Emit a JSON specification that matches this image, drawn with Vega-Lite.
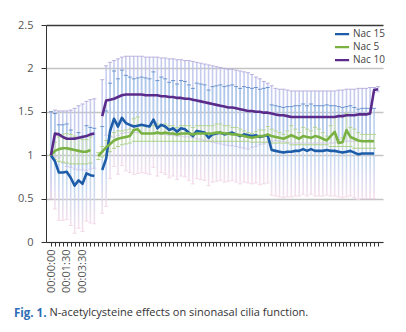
{
  "$schema": "https://vega.github.io/schema/vega-lite/v6.json",
  "width": 337,
  "height": 217,
  "autosize": {"type": "none"},
  "padding": {"left": 46, "top": 25, "right": 23, "bottom": 90},
  "background": "white",
  "config": {"view": {"stroke": null}, "font": "Open Sans"},
  "title": {
    "text": "Fig. 1.",
    "orient": "bottom",
    "anchor": "start",
    "frame": "group",
    "dx": -32,
    "offset": 0,
    "baseline": "alphabetic",
    "font": "Open Sans",
    "fontSize": 11.5,
    "fontWeight": "bold",
    "color": "#2e6db4"
  },
  "data": {
    "values": [
      {"t": 0, "s": "Nac 15", "g": 1, "v": 1.00, "lo": 0.50, "hi": 1.50},
      {"t": 1, "s": "Nac 15", "g": 1, "v": 0.93, "lo": 0.38, "hi": 1.48},
      {"t": 2, "s": "Nac 15", "g": 1, "v": 0.80, "lo": 0.25, "hi": 1.35},
      {"t": 3, "s": "Nac 15", "g": 1, "v": 0.80, "lo": 0.25, "hi": 1.35},
      {"t": 4, "s": "Nac 15", "g": 1, "v": 0.81, "lo": 0.26, "hi": 1.36},
      {"t": 5, "s": "Nac 15", "g": 1, "v": 0.74, "lo": 0.19, "hi": 1.29},
      {"t": 6, "s": "Nac 15", "g": 1, "v": 0.65, "lo": 0.10, "hi": 1.20},
      {"t": 7, "s": "Nac 15", "g": 1, "v": 0.71, "lo": 0.16, "hi": 1.26},
      {"t": 8, "s": "Nac 15", "g": 1, "v": 0.67, "lo": 0.12, "hi": 1.22},
      {"t": 9, "s": "Nac 15", "g": 1, "v": 0.79, "lo": 0.24, "hi": 1.34},
      {"t": 10, "s": "Nac 15", "g": 1, "v": 0.77, "lo": 0.22, "hi": 1.32},
      {"t": 11, "s": "Nac 15", "g": 1, "v": 0.76, "lo": 0.21, "hi": 1.31},
      {"t": 13, "s": "Nac 15", "g": 2, "v": 0.83, "lo": 0.33, "hi": 1.33},
      {"t": 14, "s": "Nac 15", "g": 2, "v": 0.96, "lo": 0.41, "hi": 1.51},
      {"t": 15, "s": "Nac 15", "g": 2, "v": 1.28, "lo": 0.73, "hi": 1.83},
      {"t": 16, "s": "Nac 15", "g": 2, "v": 1.42, "lo": 0.87, "hi": 1.97},
      {"t": 17, "s": "Nac 15", "g": 2, "v": 1.33, "lo": 0.78, "hi": 1.88},
      {"t": 18, "s": "Nac 15", "g": 2, "v": 1.43, "lo": 0.88, "hi": 1.98},
      {"t": 19, "s": "Nac 15", "g": 2, "v": 1.37, "lo": 0.82, "hi": 1.92},
      {"t": 20, "s": "Nac 15", "g": 2, "v": 1.35, "lo": 0.80, "hi": 1.90},
      {"t": 21, "s": "Nac 15", "g": 2, "v": 1.33, "lo": 0.78, "hi": 1.88},
      {"t": 22, "s": "Nac 15", "g": 2, "v": 1.34, "lo": 0.79, "hi": 1.89},
      {"t": 23, "s": "Nac 15", "g": 2, "v": 1.35, "lo": 0.80, "hi": 1.90},
      {"t": 24, "s": "Nac 15", "g": 2, "v": 1.34, "lo": 0.79, "hi": 1.89},
      {"t": 25, "s": "Nac 15", "g": 2, "v": 1.33, "lo": 0.78, "hi": 1.88},
      {"t": 26, "s": "Nac 15", "g": 2, "v": 1.41, "lo": 0.86, "hi": 1.96},
      {"t": 27, "s": "Nac 15", "g": 2, "v": 1.31, "lo": 0.76, "hi": 1.86},
      {"t": 28, "s": "Nac 15", "g": 2, "v": 1.35, "lo": 0.80, "hi": 1.90},
      {"t": 29, "s": "Nac 15", "g": 2, "v": 1.33, "lo": 0.78, "hi": 1.88},
      {"t": 30, "s": "Nac 15", "g": 2, "v": 1.29, "lo": 0.74, "hi": 1.84},
      {"t": 31, "s": "Nac 15", "g": 2, "v": 1.31, "lo": 0.76, "hi": 1.86},
      {"t": 32, "s": "Nac 15", "g": 2, "v": 1.27, "lo": 0.72, "hi": 1.82},
      {"t": 33, "s": "Nac 15", "g": 2, "v": 1.31, "lo": 0.76, "hi": 1.86},
      {"t": 34, "s": "Nac 15", "g": 2, "v": 1.30, "lo": 0.75, "hi": 1.85},
      {"t": 35, "s": "Nac 15", "g": 2, "v": 1.26, "lo": 0.71, "hi": 1.81},
      {"t": 36, "s": "Nac 15", "g": 2, "v": 1.22, "lo": 0.67, "hi": 1.77},
      {"t": 37, "s": "Nac 15", "g": 2, "v": 1.28, "lo": 0.73, "hi": 1.83},
      {"t": 38, "s": "Nac 15", "g": 2, "v": 1.27, "lo": 0.72, "hi": 1.82},
      {"t": 39, "s": "Nac 15", "g": 2, "v": 1.26, "lo": 0.71, "hi": 1.81},
      {"t": 40, "s": "Nac 15", "g": 2, "v": 1.20, "lo": 0.65, "hi": 1.75},
      {"t": 41, "s": "Nac 15", "g": 2, "v": 1.24, "lo": 0.69, "hi": 1.79},
      {"t": 42, "s": "Nac 15", "g": 2, "v": 1.25, "lo": 0.70, "hi": 1.80},
      {"t": 43, "s": "Nac 15", "g": 2, "v": 1.26, "lo": 0.71, "hi": 1.81},
      {"t": 44, "s": "Nac 15", "g": 2, "v": 1.24, "lo": 0.69, "hi": 1.79},
      {"t": 45, "s": "Nac 15", "g": 2, "v": 1.25, "lo": 0.70, "hi": 1.80},
      {"t": 46, "s": "Nac 15", "g": 2, "v": 1.26, "lo": 0.71, "hi": 1.81},
      {"t": 47, "s": "Nac 15", "g": 2, "v": 1.24, "lo": 0.69, "hi": 1.79},
      {"t": 48, "s": "Nac 15", "g": 2, "v": 1.22, "lo": 0.67, "hi": 1.77},
      {"t": 49, "s": "Nac 15", "g": 2, "v": 1.24, "lo": 0.69, "hi": 1.79},
      {"t": 50, "s": "Nac 15", "g": 2, "v": 1.23, "lo": 0.68, "hi": 1.78},
      {"t": 51, "s": "Nac 15", "g": 2, "v": 1.22, "lo": 0.67, "hi": 1.77},
      {"t": 52, "s": "Nac 15", "g": 2, "v": 1.23, "lo": 0.68, "hi": 1.78},
      {"t": 53, "s": "Nac 15", "g": 2, "v": 1.21, "lo": 0.66, "hi": 1.76},
      {"t": 54, "s": "Nac 15", "g": 2, "v": 1.22, "lo": 0.67, "hi": 1.77},
      {"t": 55, "s": "Nac 15", "g": 2, "v": 1.23, "lo": 0.68, "hi": 1.78},
      {"t": 56, "s": "Nac 15", "g": 2, "v": 1.06, "lo": 0.54, "hi": 1.58},
      {"t": 57, "s": "Nac 15", "g": 2, "v": 1.05, "lo": 0.53, "hi": 1.57},
      {"t": 58, "s": "Nac 15", "g": 2, "v": 1.04, "lo": 0.52, "hi": 1.56},
      {"t": 59, "s": "Nac 15", "g": 2, "v": 1.03, "lo": 0.51, "hi": 1.55},
      {"t": 60, "s": "Nac 15", "g": 2, "v": 1.04, "lo": 0.52, "hi": 1.56},
      {"t": 61, "s": "Nac 15", "g": 2, "v": 1.04, "lo": 0.52, "hi": 1.56},
      {"t": 62, "s": "Nac 15", "g": 2, "v": 1.05, "lo": 0.53, "hi": 1.57},
      {"t": 63, "s": "Nac 15", "g": 2, "v": 1.05, "lo": 0.53, "hi": 1.57},
      {"t": 64, "s": "Nac 15", "g": 2, "v": 1.07, "lo": 0.55, "hi": 1.59},
      {"t": 65, "s": "Nac 15", "g": 2, "v": 1.05, "lo": 0.53, "hi": 1.57},
      {"t": 66, "s": "Nac 15", "g": 2, "v": 1.07, "lo": 0.55, "hi": 1.59},
      {"t": 67, "s": "Nac 15", "g": 2, "v": 1.05, "lo": 0.53, "hi": 1.57},
      {"t": 68, "s": "Nac 15", "g": 2, "v": 1.05, "lo": 0.53, "hi": 1.57},
      {"t": 69, "s": "Nac 15", "g": 2, "v": 1.05, "lo": 0.53, "hi": 1.57},
      {"t": 70, "s": "Nac 15", "g": 2, "v": 1.06, "lo": 0.54, "hi": 1.58},
      {"t": 71, "s": "Nac 15", "g": 2, "v": 1.05, "lo": 0.53, "hi": 1.57},
      {"t": 72, "s": "Nac 15", "g": 2, "v": 1.05, "lo": 0.53, "hi": 1.57},
      {"t": 73, "s": "Nac 15", "g": 2, "v": 1.04, "lo": 0.52, "hi": 1.56},
      {"t": 74, "s": "Nac 15", "g": 2, "v": 1.03, "lo": 0.51, "hi": 1.55},
      {"t": 75, "s": "Nac 15", "g": 2, "v": 1.04, "lo": 0.52, "hi": 1.56},
      {"t": 76, "s": "Nac 15", "g": 2, "v": 1.05, "lo": 0.53, "hi": 1.57},
      {"t": 77, "s": "Nac 15", "g": 2, "v": 1.03, "lo": 0.51, "hi": 1.55},
      {"t": 78, "s": "Nac 15", "g": 2, "v": 1.01, "lo": 0.49, "hi": 1.53},
      {"t": 79, "s": "Nac 15", "g": 2, "v": 1.02, "lo": 0.50, "hi": 1.54},
      {"t": 80, "s": "Nac 15", "g": 2, "v": 1.02, "lo": 0.50, "hi": 1.54},
      {"t": 81, "s": "Nac 15", "g": 2, "v": 1.02, "lo": 0.50, "hi": 1.54},
      {"t": 82, "s": "Nac 15", "g": 2, "v": 1.02, "lo": 0.50, "hi": 1.54},

      {"t": 0, "s": "Nac 5", "g": 1, "v": 1.00, "lo": 1.00, "hi": 1.00},
      {"t": 1, "s": "Nac 5", "g": 1, "v": 1.05, "lo": 0.95, "hi": 1.15},
      {"t": 2, "s": "Nac 5", "g": 1, "v": 1.07, "lo": 0.93, "hi": 1.21},
      {"t": 3, "s": "Nac 5", "g": 1, "v": 1.08, "lo": 0.92, "hi": 1.24},
      {"t": 4, "s": "Nac 5", "g": 1, "v": 1.08, "lo": 0.91, "hi": 1.25},
      {"t": 5, "s": "Nac 5", "g": 1, "v": 1.07, "lo": 0.90, "hi": 1.24},
      {"t": 6, "s": "Nac 5", "g": 1, "v": 1.06, "lo": 0.90, "hi": 1.22},
      {"t": 7, "s": "Nac 5", "g": 1, "v": 1.05, "lo": 0.90, "hi": 1.20},
      {"t": 8, "s": "Nac 5", "g": 1, "v": 1.04, "lo": 0.90, "hi": 1.18},
      {"t": 9, "s": "Nac 5", "g": 1, "v": 1.04, "lo": 0.90, "hi": 1.18},
      {"t": 10, "s": "Nac 5", "g": 1, "v": 1.06, "lo": 0.91, "hi": 1.21},
      {"t": 12, "s": "Nac 5", "g": 2, "v": 0.99, "lo": 0.95, "hi": 1.03},
      {"t": 13, "s": "Nac 5", "g": 2, "v": 1.04, "lo": 0.98, "hi": 1.10},
      {"t": 14, "s": "Nac 5", "g": 2, "v": 1.09, "lo": 1.01, "hi": 1.17},
      {"t": 15, "s": "Nac 5", "g": 2, "v": 1.13, "lo": 1.04, "hi": 1.22},
      {"t": 16, "s": "Nac 5", "g": 2, "v": 1.17, "lo": 1.08, "hi": 1.26},
      {"t": 17, "s": "Nac 5", "g": 2, "v": 1.19, "lo": 1.10, "hi": 1.28},
      {"t": 18, "s": "Nac 5", "g": 2, "v": 1.20, "lo": 1.12, "hi": 1.28},
      {"t": 19, "s": "Nac 5", "g": 2, "v": 1.21, "lo": 1.13, "hi": 1.29},
      {"t": 20, "s": "Nac 5", "g": 2, "v": 1.22, "lo": 1.14, "hi": 1.30},
      {"t": 21, "s": "Nac 5", "g": 2, "v": 1.29, "lo": 1.16, "hi": 1.42},
      {"t": 22, "s": "Nac 5", "g": 2, "v": 1.30, "lo": 1.16, "hi": 1.44},
      {"t": 23, "s": "Nac 5", "g": 2, "v": 1.25, "lo": 1.16, "hi": 1.34},
      {"t": 24, "s": "Nac 5", "g": 2, "v": 1.25, "lo": 1.16, "hi": 1.34},
      {"t": 25, "s": "Nac 5", "g": 2, "v": 1.25, "lo": 1.16, "hi": 1.34},
      {"t": 26, "s": "Nac 5", "g": 2, "v": 1.25, "lo": 1.16, "hi": 1.34},
      {"t": 27, "s": "Nac 5", "g": 2, "v": 1.26, "lo": 1.16, "hi": 1.36},
      {"t": 28, "s": "Nac 5", "g": 2, "v": 1.25, "lo": 1.16, "hi": 1.34},
      {"t": 29, "s": "Nac 5", "g": 2, "v": 1.26, "lo": 1.16, "hi": 1.36},
      {"t": 30, "s": "Nac 5", "g": 2, "v": 1.25, "lo": 1.16, "hi": 1.34},
      {"t": 31, "s": "Nac 5", "g": 2, "v": 1.25, "lo": 1.16, "hi": 1.34},
      {"t": 32, "s": "Nac 5", "g": 2, "v": 1.24, "lo": 1.16, "hi": 1.32},
      {"t": 33, "s": "Nac 5", "g": 2, "v": 1.25, "lo": 1.16, "hi": 1.34},
      {"t": 34, "s": "Nac 5", "g": 2, "v": 1.25, "lo": 1.16, "hi": 1.34},
      {"t": 35, "s": "Nac 5", "g": 2, "v": 1.25, "lo": 1.16, "hi": 1.34},
      {"t": 36, "s": "Nac 5", "g": 2, "v": 1.24, "lo": 1.16, "hi": 1.32},
      {"t": 37, "s": "Nac 5", "g": 2, "v": 1.25, "lo": 1.16, "hi": 1.34},
      {"t": 38, "s": "Nac 5", "g": 2, "v": 1.25, "lo": 1.16, "hi": 1.34},
      {"t": 39, "s": "Nac 5", "g": 2, "v": 1.25, "lo": 1.16, "hi": 1.34},
      {"t": 40, "s": "Nac 5", "g": 2, "v": 1.25, "lo": 1.16, "hi": 1.34},
      {"t": 41, "s": "Nac 5", "g": 2, "v": 1.25, "lo": 1.16, "hi": 1.34},
      {"t": 42, "s": "Nac 5", "g": 2, "v": 1.26, "lo": 1.16, "hi": 1.36},
      {"t": 43, "s": "Nac 5", "g": 2, "v": 1.26, "lo": 1.16, "hi": 1.36},
      {"t": 44, "s": "Nac 5", "g": 2, "v": 1.25, "lo": 1.16, "hi": 1.34},
      {"t": 45, "s": "Nac 5", "g": 2, "v": 1.25, "lo": 1.16, "hi": 1.34},
      {"t": 46, "s": "Nac 5", "g": 2, "v": 1.24, "lo": 1.16, "hi": 1.32},
      {"t": 47, "s": "Nac 5", "g": 2, "v": 1.24, "lo": 1.16, "hi": 1.32},
      {"t": 48, "s": "Nac 5", "g": 2, "v": 1.23, "lo": 1.16, "hi": 1.30},
      {"t": 49, "s": "Nac 5", "g": 2, "v": 1.22, "lo": 1.16, "hi": 1.28},
      {"t": 50, "s": "Nac 5", "g": 2, "v": 1.21, "lo": 1.16, "hi": 1.26},
      {"t": 51, "s": "Nac 5", "g": 2, "v": 1.20, "lo": 1.15, "hi": 1.25},
      {"t": 52, "s": "Nac 5", "g": 2, "v": 1.21, "lo": 1.15, "hi": 1.27},
      {"t": 53, "s": "Nac 5", "g": 2, "v": 1.22, "lo": 1.15, "hi": 1.29},
      {"t": 54, "s": "Nac 5", "g": 2, "v": 1.22, "lo": 1.15, "hi": 1.29},
      {"t": 55, "s": "Nac 5", "g": 2, "v": 1.24, "lo": 1.15, "hi": 1.33},
      {"t": 56, "s": "Nac 5", "g": 2, "v": 1.22, "lo": 1.14, "hi": 1.30},
      {"t": 57, "s": "Nac 5", "g": 2, "v": 1.21, "lo": 1.14, "hi": 1.28},
      {"t": 58, "s": "Nac 5", "g": 2, "v": 1.20, "lo": 1.14, "hi": 1.26},
      {"t": 59, "s": "Nac 5", "g": 2, "v": 1.19, "lo": 1.14, "hi": 1.24},
      {"t": 60, "s": "Nac 5", "g": 2, "v": 1.21, "lo": 1.14, "hi": 1.28},
      {"t": 61, "s": "Nac 5", "g": 2, "v": 1.23, "lo": 1.12, "hi": 1.34},
      {"t": 62, "s": "Nac 5", "g": 2, "v": 1.21, "lo": 1.12, "hi": 1.30},
      {"t": 63, "s": "Nac 5", "g": 2, "v": 1.19, "lo": 1.12, "hi": 1.26},
      {"t": 64, "s": "Nac 5", "g": 2, "v": 1.22, "lo": 1.12, "hi": 1.32},
      {"t": 65, "s": "Nac 5", "g": 2, "v": 1.21, "lo": 1.12, "hi": 1.30},
      {"t": 66, "s": "Nac 5", "g": 2, "v": 1.20, "lo": 1.12, "hi": 1.28},
      {"t": 67, "s": "Nac 5", "g": 2, "v": 1.22, "lo": 1.12, "hi": 1.32},
      {"t": 68, "s": "Nac 5", "g": 2, "v": 1.21, "lo": 1.12, "hi": 1.30},
      {"t": 69, "s": "Nac 5", "g": 2, "v": 1.19, "lo": 1.12, "hi": 1.26},
      {"t": 70, "s": "Nac 5", "g": 2, "v": 1.17, "lo": 1.12, "hi": 1.22},
      {"t": 71, "s": "Nac 5", "g": 2, "v": 1.22, "lo": 1.10, "hi": 1.34},
      {"t": 72, "s": "Nac 5", "g": 2, "v": 1.27, "lo": 1.10, "hi": 1.44},
      {"t": 73, "s": "Nac 5", "g": 2, "v": 1.14, "lo": 1.10, "hi": 1.18},
      {"t": 74, "s": "Nac 5", "g": 2, "v": 1.15, "lo": 1.10, "hi": 1.20},
      {"t": 75, "s": "Nac 5", "g": 2, "v": 1.29, "lo": 1.10, "hi": 1.48},
      {"t": 76, "s": "Nac 5", "g": 2, "v": 1.21, "lo": 1.10, "hi": 1.32},
      {"t": 77, "s": "Nac 5", "g": 2, "v": 1.19, "lo": 1.08, "hi": 1.30},
      {"t": 78, "s": "Nac 5", "g": 2, "v": 1.17, "lo": 1.08, "hi": 1.26},
      {"t": 79, "s": "Nac 5", "g": 2, "v": 1.16, "lo": 1.08, "hi": 1.24},
      {"t": 80, "s": "Nac 5", "g": 2, "v": 1.16, "lo": 1.08, "hi": 1.24},
      {"t": 81, "s": "Nac 5", "g": 2, "v": 1.16, "lo": 1.08, "hi": 1.24},
      {"t": 82, "s": "Nac 5", "g": 2, "v": 1.16, "lo": 1.08, "hi": 1.24},

      {"t": 0, "s": "Nac 10", "g": 1, "v": 1.00, "lo": 0.50, "hi": 1.50},
      {"t": 1, "s": "Nac 10", "g": 1, "v": 1.25, "lo": 0.98, "hi": 1.52},
      {"t": 2, "s": "Nac 10", "g": 1, "v": 1.24, "lo": 0.97, "hi": 1.51},
      {"t": 3, "s": "Nac 10", "g": 1, "v": 1.21, "lo": 0.91, "hi": 1.51},
      {"t": 4, "s": "Nac 10", "g": 1, "v": 1.19, "lo": 0.87, "hi": 1.51},
      {"t": 5, "s": "Nac 10", "g": 1, "v": 1.19, "lo": 0.86, "hi": 1.52},
      {"t": 6, "s": "Nac 10", "g": 1, "v": 1.19, "lo": 0.84, "hi": 1.54},
      {"t": 7, "s": "Nac 10", "g": 1, "v": 1.20, "lo": 0.83, "hi": 1.57},
      {"t": 8, "s": "Nac 10", "g": 1, "v": 1.21, "lo": 0.83, "hi": 1.59},
      {"t": 9, "s": "Nac 10", "g": 1, "v": 1.22, "lo": 0.82, "hi": 1.62},
      {"t": 10, "s": "Nac 10", "g": 1, "v": 1.24, "lo": 0.84, "hi": 1.64},
      {"t": 11, "s": "Nac 10", "g": 1, "v": 1.25, "lo": 0.85, "hi": 1.65},
      {"t": 13, "s": "Nac 10", "g": 2, "v": 1.45, "lo": 1.03, "hi": 1.87},
      {"t": 14, "s": "Nac 10", "g": 2, "v": 1.63, "lo": 1.23, "hi": 2.03},
      {"t": 15, "s": "Nac 10", "g": 2, "v": 1.64, "lo": 1.21, "hi": 2.07},
      {"t": 16, "s": "Nac 10", "g": 2, "v": 1.65, "lo": 1.21, "hi": 2.09},
      {"t": 17, "s": "Nac 10", "g": 2, "v": 1.67, "lo": 1.23, "hi": 2.11},
      {"t": 18, "s": "Nac 10", "g": 2, "v": 1.69, "lo": 1.25, "hi": 2.13},
      {"t": 19, "s": "Nac 10", "g": 2, "v": 1.70, "lo": 1.26, "hi": 2.14},
      {"t": 20, "s": "Nac 10", "g": 2, "v": 1.70, "lo": 1.26, "hi": 2.14},
      {"t": 21, "s": "Nac 10", "g": 2, "v": 1.70, "lo": 1.26, "hi": 2.14},
      {"t": 22, "s": "Nac 10", "g": 2, "v": 1.70, "lo": 1.26, "hi": 2.14},
      {"t": 23, "s": "Nac 10", "g": 2, "v": 1.70, "lo": 1.26, "hi": 2.14},
      {"t": 24, "s": "Nac 10", "g": 2, "v": 1.69, "lo": 1.25, "hi": 2.13},
      {"t": 25, "s": "Nac 10", "g": 2, "v": 1.69, "lo": 1.25, "hi": 2.13},
      {"t": 26, "s": "Nac 10", "g": 2, "v": 1.69, "lo": 1.25, "hi": 2.13},
      {"t": 27, "s": "Nac 10", "g": 2, "v": 1.69, "lo": 1.25, "hi": 2.13},
      {"t": 28, "s": "Nac 10", "g": 2, "v": 1.68, "lo": 1.24, "hi": 2.12},
      {"t": 29, "s": "Nac 10", "g": 2, "v": 1.68, "lo": 1.24, "hi": 2.12},
      {"t": 30, "s": "Nac 10", "g": 2, "v": 1.67, "lo": 1.23, "hi": 2.11},
      {"t": 31, "s": "Nac 10", "g": 2, "v": 1.67, "lo": 1.23, "hi": 2.11},
      {"t": 32, "s": "Nac 10", "g": 2, "v": 1.66, "lo": 1.22, "hi": 2.10},
      {"t": 33, "s": "Nac 10", "g": 2, "v": 1.66, "lo": 1.22, "hi": 2.10},
      {"t": 34, "s": "Nac 10", "g": 2, "v": 1.65, "lo": 1.21, "hi": 2.09},
      {"t": 35, "s": "Nac 10", "g": 2, "v": 1.65, "lo": 1.21, "hi": 2.09},
      {"t": 36, "s": "Nac 10", "g": 2, "v": 1.64, "lo": 1.20, "hi": 2.08},
      {"t": 37, "s": "Nac 10", "g": 2, "v": 1.63, "lo": 1.19, "hi": 2.07},
      {"t": 38, "s": "Nac 10", "g": 2, "v": 1.62, "lo": 1.18, "hi": 2.06},
      {"t": 39, "s": "Nac 10", "g": 2, "v": 1.61, "lo": 1.17, "hi": 2.05},
      {"t": 40, "s": "Nac 10", "g": 2, "v": 1.60, "lo": 1.16, "hi": 2.04},
      {"t": 41, "s": "Nac 10", "g": 2, "v": 1.59, "lo": 1.15, "hi": 2.03},
      {"t": 42, "s": "Nac 10", "g": 2, "v": 1.58, "lo": 1.14, "hi": 2.02},
      {"t": 43, "s": "Nac 10", "g": 2, "v": 1.57, "lo": 1.13, "hi": 2.01},
      {"t": 44, "s": "Nac 10", "g": 2, "v": 1.56, "lo": 1.12, "hi": 2.00},
      {"t": 45, "s": "Nac 10", "g": 2, "v": 1.55, "lo": 1.11, "hi": 1.99},
      {"t": 46, "s": "Nac 10", "g": 2, "v": 1.55, "lo": 1.11, "hi": 1.99},
      {"t": 47, "s": "Nac 10", "g": 2, "v": 1.54, "lo": 1.10, "hi": 1.98},
      {"t": 48, "s": "Nac 10", "g": 2, "v": 1.53, "lo": 1.09, "hi": 1.97},
      {"t": 49, "s": "Nac 10", "g": 2, "v": 1.52, "lo": 1.08, "hi": 1.96},
      {"t": 50, "s": "Nac 10", "g": 2, "v": 1.51, "lo": 1.07, "hi": 1.95},
      {"t": 51, "s": "Nac 10", "g": 2, "v": 1.51, "lo": 1.09, "hi": 1.93},
      {"t": 52, "s": "Nac 10", "g": 2, "v": 1.50, "lo": 1.10, "hi": 1.90},
      {"t": 53, "s": "Nac 10", "g": 2, "v": 1.50, "lo": 1.12, "hi": 1.88},
      {"t": 54, "s": "Nac 10", "g": 2, "v": 1.49, "lo": 1.13, "hi": 1.85},
      {"t": 55, "s": "Nac 10", "g": 2, "v": 1.49, "lo": 1.15, "hi": 1.83},
      {"t": 56, "s": "Nac 10", "g": 2, "v": 1.48, "lo": 1.16, "hi": 1.80},
      {"t": 57, "s": "Nac 10", "g": 2, "v": 1.47, "lo": 1.17, "hi": 1.77},
      {"t": 58, "s": "Nac 10", "g": 2, "v": 1.46, "lo": 1.16, "hi": 1.76},
      {"t": 59, "s": "Nac 10", "g": 2, "v": 1.46, "lo": 1.16, "hi": 1.76},
      {"t": 60, "s": "Nac 10", "g": 2, "v": 1.45, "lo": 1.15, "hi": 1.75},
      {"t": 61, "s": "Nac 10", "g": 2, "v": 1.44, "lo": 1.14, "hi": 1.74},
      {"t": 62, "s": "Nac 10", "g": 2, "v": 1.44, "lo": 1.14, "hi": 1.74},
      {"t": 63, "s": "Nac 10", "g": 2, "v": 1.44, "lo": 1.14, "hi": 1.74},
      {"t": 64, "s": "Nac 10", "g": 2, "v": 1.44, "lo": 1.14, "hi": 1.74},
      {"t": 65, "s": "Nac 10", "g": 2, "v": 1.44, "lo": 1.14, "hi": 1.74},
      {"t": 66, "s": "Nac 10", "g": 2, "v": 1.44, "lo": 1.14, "hi": 1.74},
      {"t": 67, "s": "Nac 10", "g": 2, "v": 1.44, "lo": 1.14, "hi": 1.74},
      {"t": 68, "s": "Nac 10", "g": 2, "v": 1.44, "lo": 1.14, "hi": 1.74},
      {"t": 69, "s": "Nac 10", "g": 2, "v": 1.44, "lo": 1.14, "hi": 1.74},
      {"t": 70, "s": "Nac 10", "g": 2, "v": 1.44, "lo": 1.14, "hi": 1.74},
      {"t": 71, "s": "Nac 10", "g": 2, "v": 1.44, "lo": 1.14, "hi": 1.74},
      {"t": 72, "s": "Nac 10", "g": 2, "v": 1.44, "lo": 1.14, "hi": 1.74},
      {"t": 73, "s": "Nac 10", "g": 2, "v": 1.45, "lo": 1.15, "hi": 1.75},
      {"t": 74, "s": "Nac 10", "g": 2, "v": 1.45, "lo": 1.15, "hi": 1.75},
      {"t": 75, "s": "Nac 10", "g": 2, "v": 1.46, "lo": 1.16, "hi": 1.76},
      {"t": 76, "s": "Nac 10", "g": 2, "v": 1.46, "lo": 1.16, "hi": 1.76},
      {"t": 77, "s": "Nac 10", "g": 2, "v": 1.46, "lo": 1.16, "hi": 1.76},
      {"t": 78, "s": "Nac 10", "g": 2, "v": 1.47, "lo": 1.17, "hi": 1.77},
      {"t": 79, "s": "Nac 10", "g": 2, "v": 1.47, "lo": 1.17, "hi": 1.77},
      {"t": 80, "s": "Nac 10", "g": 2, "v": 1.47, "lo": 1.17, "hi": 1.77},
      {"t": 81, "s": "Nac 10", "g": 2, "v": 1.48, "lo": 1.18, "hi": 1.78},
      {"t": 82, "s": "Nac 10", "g": 2, "v": 1.75, "lo": 1.72, "hi": 1.78},
      {"t": 83, "s": "Nac 10", "g": 2, "v": 1.76, "lo": 1.73, "hi": 1.79}
    ]
  },
  "encoding": {
    "x": {
      "field": "t",
      "type": "quantitative",
      "scale": {"domain": [0, 83], "nice": false, "zero": false},
      "axis": {
        "values": [0,1,2,3,4,5,6,7,8,9,10,11,12,13,14,15,16,17,18,19,20,21,22,23,24,25,26,27,28,29,30,31,32,33,34,35,36,37,38,39,40,41,42,43,44,45,46,47,48,49,50,51,52,53,54,55,56,57,58,59,60,61,62,63,64,65,66,67,68,69,70,71,72,73,74,75,76,77,78,79,80,81,82,83],
        "labelExpr": "datum.value == 0 ? '00:00:00' : datum.value == 4 ? '00:01:30' : datum.value == 8 ? '00:03:30' : ''",
        "labelAngle": -90,
        "labelOverlap": false,
        "labelBound": false,
        "labelFlush": false,
        "labelFont": "Open Sans",
        "labelFontSize": 11,
        "labelColor": "#555555",
        "labelPadding": 3,
        "tickSize": 4,
        "tickColor": "#333333",
        "domainColor": "#333333",
        "grid": false,
        "title": "N-acetylcysteine effects on sinonasal cilia function.",
        "titleX": 3,
        "titleY": 73,
        "titleAlign": "left",
        "titleAngle": 0,
        "titleBaseline": "alphabetic",
        "titleFont": "Open Sans",
        "titleFontSize": 11,
        "titleFontWeight": "normal",
        "titleColor": "#333333"
      }
    }
  },
  "layer": [
    {
      "transform": [{"filter": "datum.s == 'Nac 10'"}],
      "mark": {"type": "rule", "color": "#bcc3ea", "strokeWidth": 1.6, "opacity": 0.85},
      "encoding": {
        "y": {"field": "lo", "type": "quantitative"},
        "y2": {"field": "hi"}
      }
    },
    {
      "transform": [{"filter": "datum.s == 'Nac 15'"}],
      "mark": {
        "type": "bar",
        "size": 1.6,
        "opacity": 0.85,
        "color": {
          "gradient": "linear",
          "x1": 0, "y1": 0, "x2": 0, "y2": 1,
          "stops": [
            {"offset": 0, "color": "#a6c6ea"},
            {"offset": 0.6, "color": "#bed2ee"},
            {"offset": 1, "color": "#f3dbea"}
          ]
        }
      },
      "encoding": {
        "y": {"field": "lo", "type": "quantitative"},
        "y2": {"field": "hi"}
      }
    },
    {
      "transform": [{"filter": "datum.s == 'Nac 5'"}],
      "mark": {"type": "rule", "color": "#cfe4b4", "strokeWidth": 1.4, "opacity": 0.8},
      "encoding": {
        "y": {"field": "lo", "type": "quantitative"},
        "y2": {"field": "hi"}
      }
    },
    {
      "transform": [{"filter": "datum.s == 'Nac 10'"}],
      "mark": {"type": "tick", "orient": "horizontal", "size": 4, "thickness": 1, "color": "#b4a8dc", "opacity": 0.9},
      "encoding": {"y": {"field": "hi", "type": "quantitative"}}
    },
    {
      "transform": [{"filter": "datum.s == 'Nac 10'"}],
      "mark": {"type": "tick", "orient": "horizontal", "size": 4, "thickness": 1, "color": "#c9bfe6", "opacity": 0.8},
      "encoding": {"y": {"field": "lo", "type": "quantitative"}}
    },
    {
      "transform": [{"filter": "datum.s == 'Nac 15'"}],
      "mark": {"type": "tick", "orient": "horizontal", "size": 4, "thickness": 1, "color": "#5f8bcb", "opacity": 0.9},
      "encoding": {"y": {"field": "hi", "type": "quantitative"}}
    },
    {
      "transform": [{"filter": "datum.s == 'Nac 15'"}],
      "mark": {"type": "tick", "orient": "horizontal", "size": 4, "thickness": 1, "color": "#f1d6e6", "opacity": 0.9},
      "encoding": {"y": {"field": "lo", "type": "quantitative"}}
    },
    {
      "transform": [{"filter": "datum.s == 'Nac 5'"}],
      "mark": {"type": "tick", "orient": "horizontal", "size": 4, "thickness": 1, "color": "#aed386", "opacity": 0.9},
      "encoding": {"y": {"field": "hi", "type": "quantitative"}}
    },
    {
      "transform": [{"filter": "datum.s == 'Nac 5'"}],
      "mark": {"type": "tick", "orient": "horizontal", "size": 4, "thickness": 1, "color": "#a9d07f", "opacity": 0.95},
      "encoding": {"y": {"field": "lo", "type": "quantitative"}}
    },
    {
      "mark": {"type": "line", "strokeWidth": 2.6, "strokeJoin": "round"},
      "encoding": {
        "y": {
          "field": "v",
          "type": "quantitative",
          "scale": {"domain": [0, 2.5], "nice": false},
          "axis": {
            "values": [0, 0.5, 1, 1.5, 2, 2.5],
            "format": "~g",
            "title": null,
            "grid": true,
            "gridColor": {"condition": {"test": "datum.value == 2.5", "value": "#3a3a3a"}, "value": "#c4c4c4"},
            "gridWidth": 1.3,
            "tickSize": 5,
            "tickColor": "#333333",
            "domainColor": "#333333",
            "labelFont": "Open Sans",
            "labelFontSize": 11,
            "labelColor": "#555555",
            "labelPadding": 8
          }
        },
        "color": {
          "field": "s",
          "type": "nominal",
          "scale": {"domain": ["Nac 15", "Nac 5", "Nac 10"], "range": ["#1d5ca8", "#79b242", "#5a2b8b"]},
          "legend": {
            "title": null,
            "orient": "none",
            "legendX": 289,
            "legendY": 3,
            "symbolType": "M-1.3,0H1.3",
            "symbolSize": 121,
            "symbolStrokeWidth": 2.2,
            "labelFont": "Open Sans",
            "labelFontSize": 10,
            "labelColor": "#444444",
            "labelOffset": 4,
            "clipHeight": 12.2,
            "rowPadding": 0,
            "padding": 0
          }
        },
        "detail": {"field": "g", "type": "nominal"}
      }
    }
  ]
}
